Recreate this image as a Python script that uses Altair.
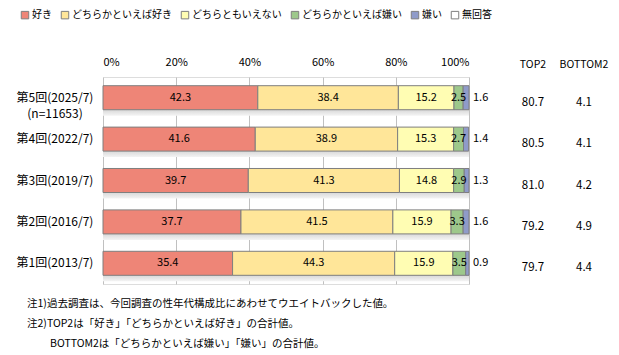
import altair as alt
import pandas as pd

FONT = "Noto Sans CJK JP"

rounds = ["第5回(2025/7)\n(n=11653)", "第4回(2022/7)", "第3回(2019/7)", "第2回(2016/7)", "第1回(2013/7)"]
categories = ["好き", "どちらかといえば好き", "どちらともいえない", "どちらかといえば嫌い", "嫌い", "無回答"]
colors = ["#EE8577", "#FFE699", "#FFFDB3", "#9DC88B", "#8F9BC9", "#FFFFFF"]

like = [42.3, 41.6, 39.7, 37.7, 35.4]
rather_like = [38.4, 38.9, 41.3, 41.5, 44.3]
neutral = [15.2, 15.3, 14.8, 15.9, 15.9]
rather_dislike = [2.5, 2.7, 2.9, 3.3, 3.5]
dislike = [1.6, 1.4, 1.3, 1.6, 0.9]
no_answer = [0.0, 0.0, 0.0, 0.0, 0.0]

top2 = [80.7, 80.5, 81.0, 79.2, 79.7]
bottom2 = [4.1, 4.1, 4.2, 4.9, 4.4]

notes = [
    "注1)過去調査は、今回調査の性年代構成比にあわせてウエイトバックした値。",
    "注2)TOP2は「好き」「どちらかといえば好き」の合計値。",
    "BOTTOM2は「どちらかといえば嫌い」「嫌い」の合計値。",
]

series = [like, rather_like, neutral, rather_dislike, dislike, no_answer]
rows = []
for i, r in enumerate(rounds):
    start = 0.0
    for j, c in enumerate(categories):
        v = series[j][i]
        rows.append(dict(round=r, cat=c, order=j, value=v, start=start, end=start + v, mid=start + v / 2))
        start += v
df = pd.DataFrame(rows)

tot = pd.DataFrame({"round": rounds, "top2": top2, "bottom2": bottom2})

yenc = alt.Y("round:N", sort=rounds, axis=None,
             scale=alt.Scale(paddingInner=0.42, paddingOuter=0.21))
xscale = alt.Scale(domain=[0, 100], nice=False)

shadow = alt.Chart(tot).transform_calculate(lo="0", hi="100").mark_bar(
    yOffset=6,
    color=alt.Gradient(gradient="linear", x1=0, x2=0, y1=0, y2=1,
                       stops=[alt.GradientStop(offset=0, color="#d4d4d4"),
                              alt.GradientStop(offset=0.75, color="#d8d8d8"),
                              alt.GradientStop(offset=1, color="#f4f4f4")])
).encode(
    x=alt.X("lo:Q", scale=xscale, axis=alt.Axis(
        orient="top", values=[0, 20, 40, 60, 80, 100], labelExpr="datum.value + '%'",
        grid=True, gridColor="#c0c0c0", gridWidth=1, ticks=False, domain=False,
        labelPadding=10, title=None, labelFontSize=11, labelColor="#000000", labelFont=FONT)),
    x2="hi:Q",
    y=yenc,
)

bars = alt.Chart(df).transform_filter("datum.value > 0").mark_bar(
    stroke="#7f7f7f", strokeWidth=1
).encode(
    x=alt.X("start:Q", scale=xscale),
    x2="end:Q",
    y=yenc,
    color=alt.Color("cat:N", scale=alt.Scale(domain=categories, range=colors),
                    legend=alt.Legend(orient="none", legendX=-83, legendY=-67,
                                      direction="horizontal", columns=6, title=None,
                                      symbolType="square", symbolSize=56,
                                      symbolStrokeColor="#7f7f7f", symbolStrokeWidth=1,
                                      labelFontSize=10, labelOffset=2, columnPadding=7,
                                      labelFont=FONT, labelColor="#000000")),
)

inner = alt.Chart(df).transform_filter("datum.order <= 3").mark_text(
    fontSize=11, font=FONT, color="#000000"
).encode(
    x=alt.X("mid:Q", scale=xscale),
    y=yenc,
    text=alt.Text("value:Q", format=".1f"),
)

outer = alt.Chart(df).transform_filter("datum.order == 4").mark_text(
    fontSize=11, font=FONT, color="#000000", align="left", dx=4
).encode(
    x=alt.datum(100, scale=xscale),
    y=yenc,
    text=alt.Text("value:Q", format=".1f"),
)

ylabels = alt.Chart(tot).mark_text(
    fontSize=12, font=FONT, color="#000000", align="center", lineBreak="\n", lineHeight=16
).encode(
    x=alt.value(-48),
    y=yenc,
    text="round:N",
)

t2 = alt.Chart(tot).mark_text(fontSize=11.5, font=FONT, color="#000000", dy=5).encode(
    x=alt.value(430), y=yenc, text=alt.Text("top2:Q", format=".1f"))
b2 = alt.Chart(tot).mark_text(fontSize=11.5, font=FONT, color="#000000", dy=5).encode(
    x=alt.value(481), y=yenc, text=alt.Text("bottom2:Q", format=".1f"))

hdr = pd.DataFrame({"h": ["TOP2", "BOTTOM2"], "pos": ["a", "b"]})
h1 = alt.Chart(hdr).transform_filter("datum.pos == 'a'").mark_text(
    fontSize=10.5, font=FONT, color="#000000").encode(
    x=alt.value(430), y=alt.value(-12), text="h:N")
h2 = alt.Chart(hdr).transform_filter("datum.pos == 'b'").mark_text(
    fontSize=10.5, font=FONT, color="#000000").encode(
    x=alt.value(481), y=alt.value(-12), text="h:N")

notes_df = pd.DataFrame({"t": notes, "k": [0, 1, 2]})


def note_line(k, x, y):
    return alt.Chart(notes_df).transform_filter(f"datum.k == {k}").mark_text(
        fontSize=10.5, font=FONT, color="#000000", align="left", baseline="middle"
    ).encode(x=alt.value(x), y=alt.value(y), text="t:N")


n1 = note_line(0, -76, 227)
n2 = note_line(1, -76, 247)
n3 = note_line(2, -53, 267)

chart = alt.layer(shadow, bars, inner, outer, ylabels, t2, b2, h1, h2, n1, n2, n3).properties(
    width=366, height=207,
    autosize=alt.AutoSizeParams(type="none"),
    padding={"left": 103, "top": 77, "right": 150, "bottom": 71},
).configure_view(stroke="#8c8c8c", strokeWidth=1).configure(background="#ffffff")

chart.save("out.html", embed_options={"renderer": "svg", "actions": False})
